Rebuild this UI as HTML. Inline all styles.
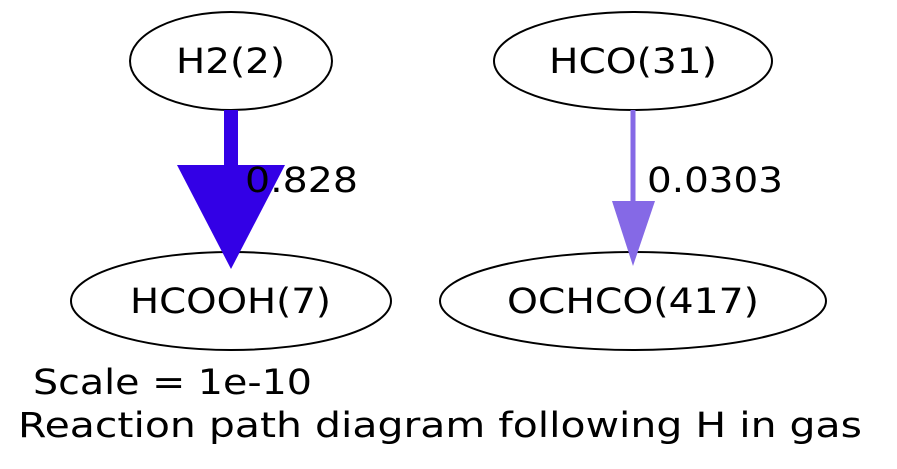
<!DOCTYPE html>
<html><head><meta charset="utf-8"><style>html,body{margin:0;padding:0;background:#fff;}svg{display:block}</style></head>
<body>
<svg width="897" height="469" viewBox="0 0 897 469" xmlns="http://www.w3.org/2000/svg" font-family="DejaVu Sans, Liberation Sans, sans-serif" font-size="35">
<rect width="897" height="469" fill="#fff"/>
<ellipse cx="231" cy="61" rx="101" ry="49" fill="none" stroke="#000" stroke-width="2"/>
<ellipse cx="633" cy="61" rx="139" ry="49" fill="none" stroke="#000" stroke-width="2"/>
<ellipse cx="231" cy="301" rx="160" ry="49" fill="none" stroke="#000" stroke-width="2"/>
<ellipse cx="633" cy="301" rx="193" ry="49" fill="none" stroke="#000" stroke-width="2"/>
<rect x="224" y="110" width="14" height="58" fill="#3300e6"/>
<polygon points="177,165 285,165 231,269" fill="#3300e6"/>
<rect x="630.5" y="110" width="5" height="92" fill="#8569e6"/>
<polygon points="612,201 655,201 633,266" fill="#8569e6"/>
<text x="176" y="73" textLength="109" lengthAdjust="spacingAndGlyphs">H2(2)</text>
<text x="549" y="73" textLength="168" lengthAdjust="spacingAndGlyphs">HCO(31)</text>
<text x="130" y="313" textLength="201" lengthAdjust="spacingAndGlyphs">HCOOH(7)</text>
<text x="507" y="313" textLength="252" lengthAdjust="spacingAndGlyphs">OCHCO(417)</text>
<text x="245" y="192" textLength="113" lengthAdjust="spacingAndGlyphs">0.828</text>
<text x="647" y="192" textLength="136" lengthAdjust="spacingAndGlyphs">0.0303</text>
<text x="33" y="394" textLength="279" lengthAdjust="spacingAndGlyphs">Scale = 1e-10</text>
<text x="18" y="437" textLength="844" lengthAdjust="spacingAndGlyphs">Reaction path diagram following H in gas</text>
</svg>
</body></html>
